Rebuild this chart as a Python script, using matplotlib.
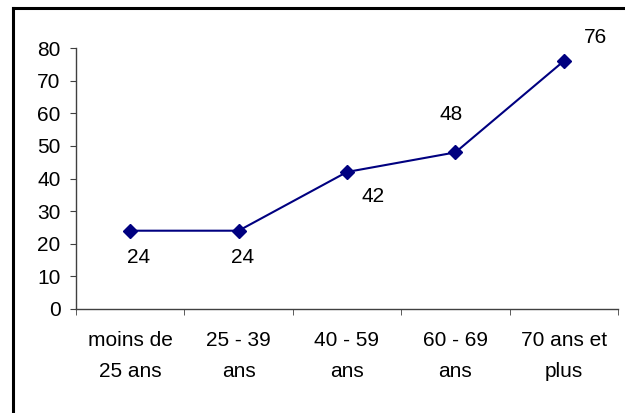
import numpy as np
import matplotlib.pyplot as plt
from matplotlib.lines import Line2D

plt.rcParams['font.family'] = ['Liberation Sans', 'DejaVu Sans']

categories = ["moins de\n25 ans", "25 - 39\nans", "40 - 59\nans", "60 - 69\nans", "70 ans et\nplus"]
values = [24, 24, 42, 48, 76]
yticks = [0, 10, 20, 30, 40, 50, 60, 70, 80]
# label offsets in points (dx, dy) around each marker
label_offsets = [(6, -19), (3, -19), (19, -18), (-3, 27), (23, 17)]
fs = 15

fig = plt.figure(figsize=(6.25, 4.13), dpi=100)
ax = fig.add_axes([76/625, 1 - 309/413, (618-76)/625, (309-48)/413])

x = np.arange(len(values))
ax.plot(x, values, color='#000080', lw=1.5, marker='D', ms=7, mfc='#000080', mec='#000080')

for xi, v, (dx, dy) in zip(x, values, label_offsets):
    ax.annotate(str(v), (xi, v), xytext=(dx, dy), textcoords='offset points',
                ha='center', va='center', fontsize=fs)

ax.set_xlim(-0.5, len(values) - 0.5)
ax.set_ylim(0, 80)
ax.set_yticks(yticks)
ax.set_xticks(x)
ax.set_xticklabels(categories, linespacing=1.8)
ax.set_xticks(np.arange(len(values) + 1) - 0.5, minor=True)
ax.tick_params(axis='x', which='major', length=0, pad=16, labelsize=fs)
ax.tick_params(axis='x', which='minor', length=4, color='#404040')
ax.tick_params(axis='y', length=4, pad=7, labelsize=fs, color='#404040')

for s in ['top', 'right']:
    ax.spines[s].set_visible(False)
for s in ['left', 'bottom']:
    ax.spines[s].set_color('#404040')
    ax.spines[s].set_linewidth(1)

# outer frame (only left and top visible in the crop)
fig.add_artist(Line2D([13/625, 13/625], [-0.1, 1 - 8/413], color='black', lw=2.2, transform=fig.transFigure))
fig.add_artist(Line2D([13/625, 1.1], [1 - 8/413, 1 - 8/413], color='black', lw=2.2, transform=fig.transFigure))

fig.savefig('out.png', dpi=100)
